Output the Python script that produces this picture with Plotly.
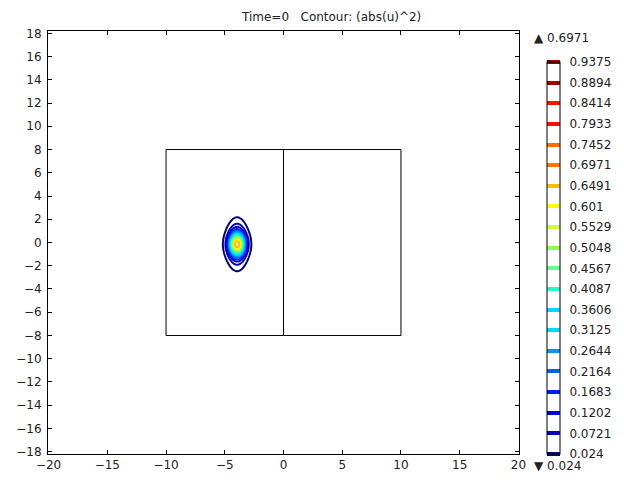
import numpy as np
import plotly.graph_objects as go

# contour levels shown in the legend bar
levels = [0.024, 0.0721, 0.1202, 0.1683, 0.2164, 0.2644, 0.3125, 0.3606, 0.4087, 0.4567,
          0.5048, 0.5529, 0.601, 0.6491, 0.6971, 0.7452, 0.7933, 0.8414, 0.8894, 0.9375]
level_colors = ['#00007a', '#0000b4', '#0000c8', '#0020ff', '#0060ff', '#0096ff', '#00d8ff', '#00d8ff',
                '#20ffc8', '#60ff90', '#90ff50', '#d0ff30', '#ffff00', '#ffbe00', '#ff7800', '#ff7000',
                '#ff1000', '#ff1000', '#a00000', '#960000']

# initial condition: pulse inside the domain (gaussian across, sech^2 along y)
peak = 0.6971
x0, y0 = -3.95, -0.15
wx, wy = 0.66, 0.98

# geometry: two squares side by side
dom_x = [-10, 0, 10]
dom_y = [-8, 8]

x = np.linspace(-10, 10, 401)
y = np.linspace(-8, 8, 321)
X, Y = np.meshgrid(x, y)
Z = peak * np.exp(-((X - x0) / wx) ** 2) / np.cosh((Y - y0) / wy) ** 2

lo, hi = levels[0], levels[-1]
step = (hi - lo) / (len(levels) - 1)
cscale = [[(v - lo) / (hi - lo), c] for v, c in zip(levels, level_colors)]
font = dict(family='DejaVu Sans', size=12, color='#222')

fig = go.Figure()
fig.add_trace(go.Contour(
    x=x, y=y, z=Z, zmin=lo, zmax=hi,
    contours=dict(start=lo, end=hi, size=step, coloring='lines'),
    colorscale=cscale, line=dict(width=2), showscale=False, hoverinfo='skip',
))

# legend bar only: same levels, drawn with thick dashes, no visible contours
fig.add_trace(go.Contour(
    x=[-1, 1], y=[-1, 1], z=[[0, 0], [0, 0]], zmin=lo, zmax=hi,
    contours=dict(start=lo, end=hi, size=step, coloring='lines'),
    colorscale=cscale, line=dict(width=4), hoverinfo='skip',
    colorbar=dict(
        x=1.059, xanchor='left', y=0.0, yanchor='bottom', len=0.927, lenmode='fraction',
        xpad=0, ypad=0, thickness=13, outlinewidth=1, outlinecolor='black',
        ticks='outside', ticklen=7, tickcolor='rgba(0,0,0,0)',
        tickvals=levels, ticktext=[str(v) for v in levels], tickfont=font,
    ),
))

# domain outline
for xa, xb in [(dom_x[0], dom_x[1]), (dom_x[1], dom_x[2])]:
    fig.add_shape(type='rect', x0=xa, x1=xb, y0=dom_y[0], y1=dom_y[1],
                  line=dict(color='black', width=1))

axis = dict(showgrid=False, zeroline=False, showline=True, linecolor='black', linewidth=1,
            mirror='ticks', ticks='inside', ticklen=4, tickcolor='black', tickfont=font,
            automargin=False)

# page body adds 8px around the figure, so the figure is 8px smaller
fig.update_layout(
    width=632, height=472, plot_bgcolor='white', paper_bgcolor='white',
    margin=dict(l=40, r=121, t=23, b=26, autoexpand=False),
    xaxis=dict(range=[-20.05, 20.05], tickvals=list(range(-20, 21, 5)), **axis),
    yaxis=dict(range=[-18.2, 18.2], tickvals=list(range(-18, 19, 2)), ticklabelstandoff=3, **axis),
    showlegend=False,
    annotations=[
        dict(text='Time=0   Contour: (abs(u)^2)', x=0.601, y=1, xref='paper', yref='paper',
             yanchor='top', yshift=23, showarrow=False, font=font),
        dict(text='▲ 0.6971', x=1.027, y=1, xref='paper', yref='paper', xanchor='left',
             yanchor='top', yshift=2, showarrow=False, font=font),
        dict(text='▼ 0.024', x=1.027, y=0, xref='paper', yref='paper', xanchor='left',
             yanchor='top', yshift=-3, showarrow=False, font=font),
    ],
)

fig.write_html("out.html")
